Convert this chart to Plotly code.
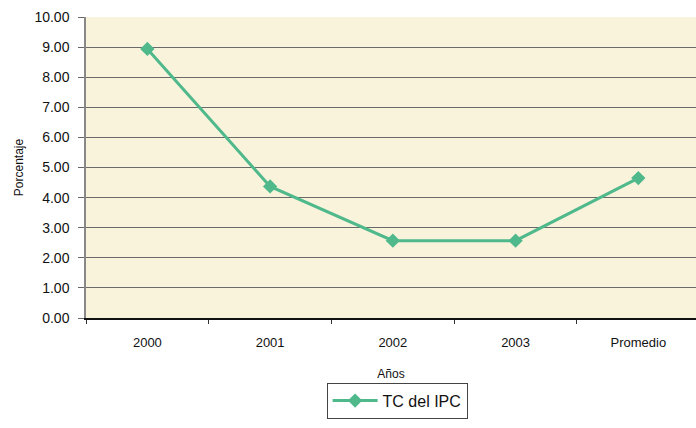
import plotly.graph_objects as go

# Tasa de crecimiento del IPC por año y su promedio
categorias = ["2000", "2001", "2002", "2003", "Promedio"]
tc_ipc = [8.94, 4.37, 2.57, 2.57, 4.65]
etiquetas_y = [f"{v:.2f}" for v in range(0, 11)]
valores_y = list(range(0, 11))

VERDE = "#4fb98c"
FUENTE = "Liberation Sans, Arial, sans-serif"

fig = go.Figure()
fig.add_trace(go.Scatter(
    x=categorias,
    y=tc_ipc,
    mode="lines+markers",
    name="TC del IPC",
    line=dict(color=VERDE, width=3),
    marker=dict(symbol="diamond", size=11, color=VERDE),
))

fig.update_layout(
    width=696,
    height=428,
    margin=dict(l=86, r=0, t=17, b=110),
    paper_bgcolor="white",
    plot_bgcolor="#faf3dc",
    font=dict(family=FUENTE, color="#111111", size=13),
    showlegend=True,
    legend=dict(
        orientation="h",
        x=0.51, xanchor="center",
        y=-0.215, yanchor="top",
        bordercolor="#444444",
        borderwidth=1,
        bgcolor="white",
        font=dict(size=16, color="#111111"),
        itemwidth=45,
        tracegroupgap=0,
    ),
    xaxis=dict(
        type="category",
        range=[-0.5, 4.47],
        showgrid=False,
        showline=True,
        linecolor="#111111",
        linewidth=1.5,
        ticks="outside",
        tickson="boundaries",
        ticklen=4,
        tickcolor="#333333",
        ticklabelstandoff=12,
        tickfont=dict(size=13),
        title=dict(text="Años", font=dict(size=12), standoff=20),
    ),
    yaxis=dict(
        range=[0, 10],
        tickvals=valores_y,
        ticktext=etiquetas_y,
        showgrid=True,
        gridcolor="#6a6a6a",
        gridwidth=1.2,
        zeroline=False,
        showline=True,
        linecolor="#888888",
        linewidth=1.5,
        ticks="outside",
        ticklen=6,
        tickcolor="#666666",
        ticklabelstandoff=6,
        tickfont=dict(size=14),
        title=dict(text="Porcentaje", font=dict(size=12), standoff=8),
    ),
)

fig.write_html("out.html")
